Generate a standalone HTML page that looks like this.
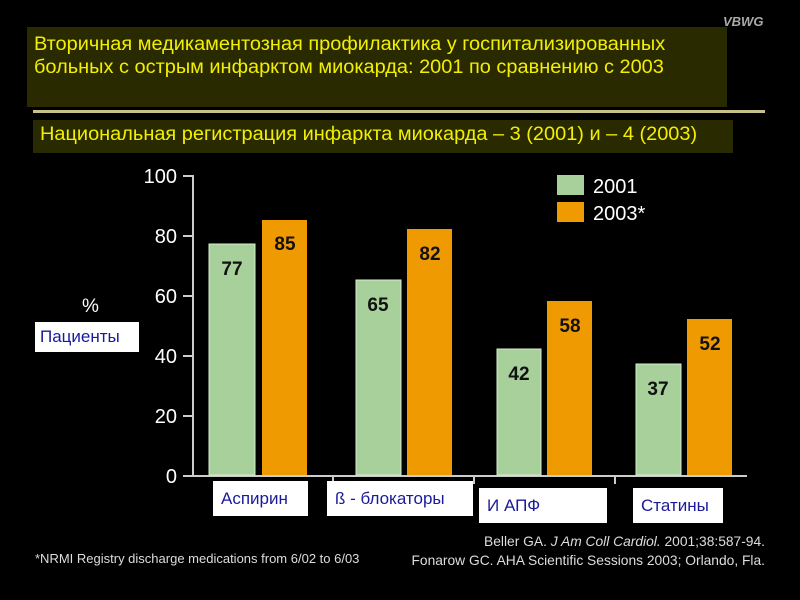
<!DOCTYPE html><html><head><meta charset="utf-8"><style>
body{margin:0;width:800px;height:600px;background:#000;overflow:hidden;position:relative;font-family:"Liberation Sans",sans-serif}
.a{position:absolute}
.y{color:#f2f000;font-size:19px;transform-origin:0 0;transform:scaleX(1.05);white-space:nowrap}
.lab{position:absolute;background:#fff;color:#1a1a9a;font-size:17px;line-height:35px;padding-left:8px;box-sizing:border-box}
</style></head><body>
<div class="a" style="left:723px;top:14px;color:#aaa;font-size:13px;font-style:italic;font-weight:bold">VBWG</div>
<div class="a" style="left:27px;top:27px;width:700px;height:80px;background:#2a2a00"></div>
<div class="a y" style="left:34px;top:33px;line-height:23px">Вторичная медикаментозная профилактика у госпитализированных<br>больных с острым инфарктом миокарда: 2001 по сравнению с 2003</div>
<div class="a" style="left:33px;top:110px;width:732px;height:3px;background:#c8c08a"></div>
<div class="a" style="left:33px;top:120px;width:700px;height:33px;background:#2a2a00"></div>
<div class="a y" style="left:40px;top:124px">Национальная регистрация инфаркта миокарда – 3 (2001) и – 4 (2003)</div>
<svg class="a" style="left:0;top:0" width="800" height="600">
<g stroke="#ccc" stroke-width="2" fill="none">
<line x1="193" y1="175" x2="193" y2="476"/>
<line x1="193" y1="476" x2="747" y2="476"/>
<line x1="183" y1="176" x2="193" y2="176"/><line x1="183" y1="236" x2="193" y2="236"/>
<line x1="183" y1="296" x2="193" y2="296"/><line x1="183" y1="356" x2="193" y2="356"/>
<line x1="183" y1="416" x2="193" y2="416"/><line x1="183" y1="476" x2="193" y2="476"/>
<line x1="333" y1="476" x2="333" y2="484"/><line x1="474" y1="476" x2="474" y2="484"/><line x1="615" y1="476" x2="615" y2="484"/>
</g>
<g fill="#fff" font-size="20" text-anchor="end">
<text x="177" y="183">100</text><text x="177" y="243">80</text><text x="177" y="303">60</text>
<text x="177" y="363">40</text><text x="177" y="423">20</text><text x="177" y="483">0</text>
</g>
<g fill="#a8d09a" stroke="#d8ecd0" stroke-width="1">
<rect x="209" y="244" width="46" height="231"/><rect x="356" y="280" width="45" height="195"/>
<rect x="497" y="349" width="44" height="126"/><rect x="636" y="364" width="45" height="111"/>
</g>
<g fill="#ee9a00">
<rect x="262" y="220" width="45" height="255"/><rect x="407" y="229" width="45" height="246"/>
<rect x="547" y="301" width="45" height="174"/><rect x="687" y="319" width="45" height="156"/>
</g>
<g fill="#111" font-size="19" font-weight="bold" text-anchor="middle">
<text x="232" y="275">77</text><text x="285" y="250">85</text>
<text x="378" y="311">65</text><text x="430" y="260">82</text>
<text x="519" y="380">42</text><text x="570" y="332">58</text>
<text x="658" y="395">37</text><text x="710" y="350">52</text>
</g>
<rect x="557" y="175" width="27" height="20" fill="#a8d09a"/>
<rect x="557" y="202" width="27" height="20" fill="#ee9a00"/>
<text x="593" y="193" fill="#fff" font-size="20">2001</text>
<text x="593" y="220" fill="#fff" font-size="20">2003*</text>
<text x="82" y="312" fill="#fff" font-size="19">%</text>
</svg>
<div class="lab" style="left:35px;top:322px;width:104px;height:30px;line-height:30px;padding-left:5px">Пациенты</div>
<div class="lab" style="left:213px;top:481px;width:95px">Аспирин</div>
<div class="lab" style="left:327px;top:481px;width:146px">ß - блокаторы</div>
<div class="lab" style="left:479px;top:488px;width:128px;padding-left:8px">И АПФ</div>
<div class="lab" style="left:633px;top:488px;width:90px">Статины</div>
<div class="a" style="left:35px;top:551px;color:#ddd;font-size:13px">*NRMI Registry discharge medications from 6/02 to 6/03</div>
<div class="a" style="right:35px;top:532px;color:#ddd;font-size:13.8px;text-align:right;line-height:19px">Beller GA. <i>J Am Coll Cardiol.</i> 2001;38:587-94.<br>Fonarow GC. AHA Scientific Sessions 2003; Orlando, Fla.</div>
</body></html>
